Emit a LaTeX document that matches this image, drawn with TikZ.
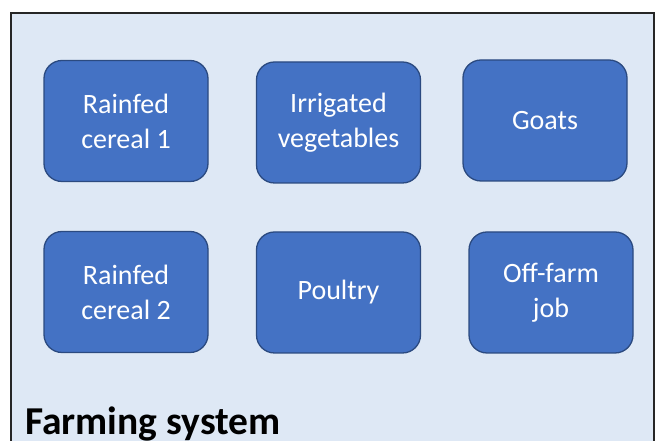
\documentclass[tikz,border=0pt]{standalone}
\usepackage{fontspec}
\setmainfont{Carlito}
\usetikzlibrary{positioning}
\definecolor{panelbg}{HTML}{DEE8F5}
\definecolor{boxfill}{HTML}{4472C4}
\definecolor{boxedge}{HTML}{2B4A80}

\begin{document}
\begin{tikzpicture}[
    x=1pt, y=1pt,
    box/.style={draw=boxedge, fill=boxfill, rounded corners=18pt, line width=1.3pt, minimum width=164pt, minimum height=121pt, text=white, font=\fontsize{28}{35}\selectfont, align=center},
    panel/.style={draw=black!85, line width=2.5pt},
    title/.style={font=\fontsize{39.5}{46}\selectfont\bfseries, anchor=base west, inner sep=0pt},
]
\useasboundingbox (0,0) rectangle (657,441);

% Panel, open at the bottom
\fill[panelbg] (11,0) rectangle (654,428);
\draw[panel] (11,-2) -- (11,428) -- (654,428) -- (654,-2);

% Activities, top row
\foreach \name/\xpos/\ypos/\txt in {cer1/126/320/{Rainfed\\cereal 1}, veg/338.5/318.5/{Irrigated\\vegetables}, goat/545/320.5/{Goats}} {
    \node[box] (\name) at (\xpos, \ypos) {\txt};
}

% Activities, bottom row
\foreach \name/\xpos/\ypos/\txt in {cer2/126/149/{Rainfed\\cereal 2}, poul/338.5/148.5/{Poultry}, job/551/148.5/{Off-farm\\job}} {
    \node[box] (\name) at (\xpos, \ypos) {\txt};
}

\node[title] (sys) at (25,6) {Farming system};

\end{tikzpicture}
\end{document}
